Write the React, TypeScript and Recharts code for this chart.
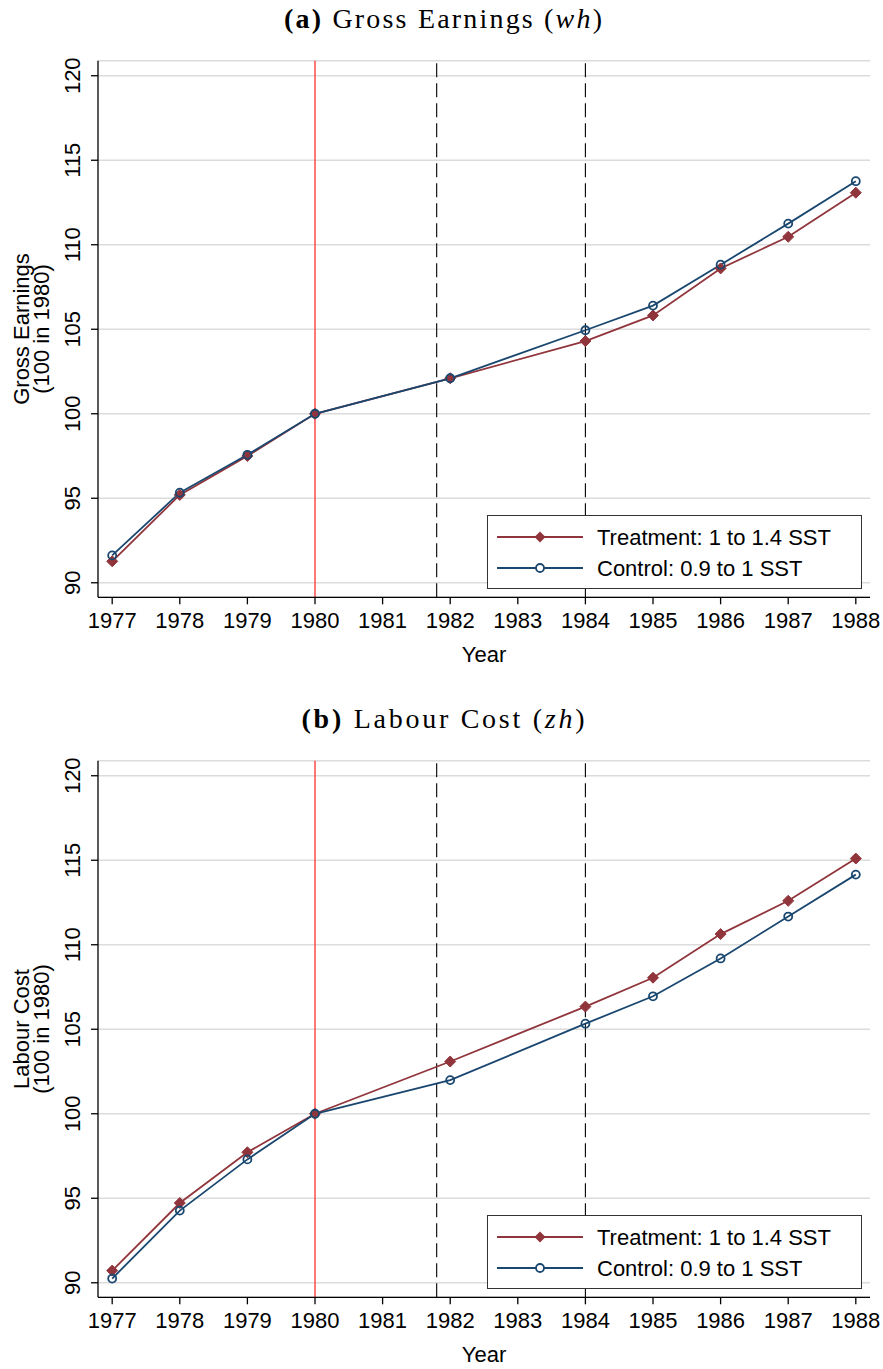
import React from "react";
import {
  LineChart,
  Line,
  XAxis,
  YAxis,
  CartesianGrid,
  ReferenceLine,
} from "recharts";

// ---------- data ----------
const years = [1977, 1978, 1979, 1980, 1982, 1984, 1985, 1986, 1987, 1988];
const xTicks = [1977, 1978, 1979, 1980, 1981, 1982, 1983, 1984, 1985, 1986, 1987, 1988];
const yTicks = [90, 95, 100, 105, 110, 115, 120];

const grossTreatment = [91.27, 95.2, 97.5, 100, 102.1, 104.3, 105.82, 108.6, 110.47, 113.08];
const grossControl = [91.62, 95.33, 97.57, 100, 102.1, 104.94, 106.4, 108.82, 111.25, 113.76];
const laborTreatment = [90.72, 94.72, 97.72, 100, 103.09, 106.34, 108.05, 110.63, 112.6, 115.1];
const laborControl = [90.25, 94.27, 97.3, 100, 101.99, 105.33, 106.95, 109.19, 111.67, 114.15];

const policyYear = 1980;
const dashedYears = [1981.8, 1984];

const treatmentLabel = "Treatment: 1 to 1.4 SST";
const controlLabel = "Control: 0.9 to 1 SST";

// ---------- style ----------
const SANS = "'Liberation Sans', Arial, Helvetica, sans-serif";
const SERIF = "'Liberation Serif', 'DejaVu Serif', serif";
const MAROON = "#90353b";
const NAVY = "#1a476f";
const W = 883;
const H = 690;
const PLOT_TOP = 60.7;
const PLOT_BOTTOM = 597.3;
const Y_AXIS_W = 98;
const RIGHT_M = 13;

const DiamondDot = (props: any) => {
  const { cx, cy } = props;
  if (cx == null || cy == null) return null;
  const r = 5.5;
  return (
    <polygon
      points={`${cx},${cy - r} ${cx + r},${cy} ${cx},${cy + r} ${cx - r},${cy}`}
      fill={MAROON}
      stroke={MAROON}
      strokeWidth={1}
    />
  );
};

const CircleDot = (props: any) => {
  const { cx, cy } = props;
  if (cx == null || cy == null) return null;
  return <circle cx={cx} cy={cy} r={4} fill="none" stroke={NAVY} strokeWidth={1.8} />;
};

const YTick = (props: any) => {
  const { x, y, payload } = props;
  return (
    <text
      x={x}
      y={y}
      transform={`rotate(-90, ${x}, ${y})`}
      textAnchor="middle"
      fontSize={22}
      fontFamily={SANS}
      fill="#000"
    >
      {payload.value}
    </text>
  );
};

const XTick = (props: any) => {
  const { x, y, payload } = props;
  return (
    <text x={x} y={y} textAnchor="middle" fontSize={22} fontFamily={SANS} fill="#000">
      {payload.value}
    </text>
  );
};

type PanelProps = {
  top: number;
  tag: string;
  titleMain: string;
  titleMath: string;
  titleWidth: number;
  yLines: string[];
  treatment: number[];
  control: number[];
};

const LegendBox = () => (
  <div
    style={{
      position: "absolute",
      left: 487,
      top: 515,
      width: 375,
      height: 74,
      boxSizing: "border-box",
      border: "1.4px solid #333",
      background: "#fff",
    }}
  >
    <svg width={375} height={74} style={{ position: "absolute", left: -1.4, top: -1.4 }}>
      <line x1={10} x2={96} y1={22} y2={22} stroke={MAROON} strokeWidth={1.8} />
      <polygon points={`53,16.5 58.5,22 53,27.5 47.5,22`} fill={MAROON} />
      <text x={110} y={30} fontSize={22} fontFamily={SANS} fill="#000">
        {treatmentLabel}
      </text>
      <line x1={10} x2={96} y1={53} y2={53} stroke={NAVY} strokeWidth={1.8} />
      <circle cx={53} cy={53} r={4} fill="#fff" stroke={NAVY} strokeWidth={1.8} />
      <text x={110} y={61} fontSize={22} fontFamily={SANS} fill="#000">
        {controlLabel}
      </text>
    </svg>
  </div>
);

const Panel = ({ top, tag, titleMain, titleMath, titleWidth, yLines, treatment, control }: PanelProps) => {
  const data = years.map((year, i) => ({ year, treatment: treatment[i], control: control[i] }));
  const yLabel = () => {
    const cy = (PLOT_TOP + PLOT_BOTTOM) / 2;
    const xs = [29, 49];
    return (
      <g>
        {yLines.map((t, i) => (
          <text
            key={i}
            x={xs[i]}
            y={cy}
            transform={`rotate(-90, ${xs[i]}, ${cy})`}
            textAnchor="middle"
            fontSize={22}
            fontFamily={SANS}
            fill="#000"
          >
            {t}
          </text>
        ))}
      </g>
    );
  };
  const xLabel = (props: any) => {
    const vb = props.viewBox || { x: 0, y: 0, width: 0 };
    return (
      <text
        x={vb.x + vb.width / 2}
        y={vb.y + 65}
        textAnchor="middle"
        fontSize={22}
        fontFamily={SANS}
        fill="#000"
      >
        Year
      </text>
    );
  };
  return (
    <div style={{ position: "absolute", left: 0, top, width: W, height: H }}>
      <svg width={W} height={44} style={{ position: "absolute", left: 0, top: 0 }}>
        <text
          x={443}
          y={28}
          textAnchor="middle"
          fontSize={28}
          fontFamily={SERIF}
          fill="#000"
          textLength={titleWidth}
          lengthAdjust="spacing"
        >
          <tspan fontWeight="bold">{tag}</tspan>
          {" " + titleMain + " ("}
          <tspan fontStyle="italic">{titleMath}</tspan>
          {")"}
        </text>
      </svg>
      <LineChart
        width={W}
        height={H}
        data={data}
        margin={{ top: PLOT_TOP, right: RIGHT_M, left: 0, bottom: 0 }}
        style={{ position: "absolute", left: 0, top: 0 }}
      >
        <CartesianGrid horizontal={true} vertical={false} stroke="#dcdcdc" strokeWidth={1.6} />
        <XAxis
          dataKey="year"
          type="number"
          domain={[1976.79, 1988.21]}
          ticks={xTicks}
          interval={0}
          tickSize={7}
          tickMargin={24}
          height={H - PLOT_BOTTOM}
          stroke="#000"
          axisLine={{ stroke: "#000", strokeWidth: 1.3 }}
          tickLine={{ stroke: "#000", strokeWidth: 1.3 }}
          tick={<XTick />}
          label={xLabel}
        />
        <YAxis
          type="number"
          domain={[89.14, 120.89]}
          ticks={yTicks}
          interval={0}
          tickSize={7}
          tickMargin={11}
          width={Y_AXIS_W}
          stroke="#000"
          axisLine={{ stroke: "#000", strokeWidth: 1.3 }}
          tickLine={{ stroke: "#000", strokeWidth: 1.3 }}
          tick={<YTick />}
          label={yLabel}
        />
        <ReferenceLine x={policyYear} stroke="#ff3c3c" strokeWidth={1.4} />
        {dashedYears.map((d) => (
          <ReferenceLine key={d} x={d} stroke="#000" strokeWidth={1.1} strokeDasharray="14 6" />
        ))}
        <Line
          type="linear"
          dataKey="treatment"
          stroke={MAROON}
          strokeWidth={1.8}
          dot={<DiamondDot />}
          activeDot={false}
          isAnimationActive={false}
        />
        <Line
          type="linear"
          dataKey="control"
          stroke={NAVY}
          strokeWidth={1.8}
          dot={<CircleDot />}
          activeDot={false}
          isAnimationActive={false}
        />
      </LineChart>
      <LegendBox />
    </div>
  );
};

export default function App() {
  return (
    <div style={{ position: "absolute", left: 0, top: 0, width: W, height: 1369, background: "#fff" }}>
      <Panel
        top={0}
        tag="(a)"
        titleMain="Gross Earnings"
        titleMath="wh"
        titleWidth={318}
        yLines={["Gross Earnings", "(100 in 1980)"]}
        treatment={grossTreatment}
        control={grossControl}
      />
      <Panel
        top={700}
        tag="(b)"
        titleMain="Labour Cost"
        titleMath="zh"
        titleWidth={283}
        yLines={["Labour Cost", "(100 in 1980)"]}
        treatment={laborTreatment}
        control={laborControl}
      />
    </div>
  );
}
